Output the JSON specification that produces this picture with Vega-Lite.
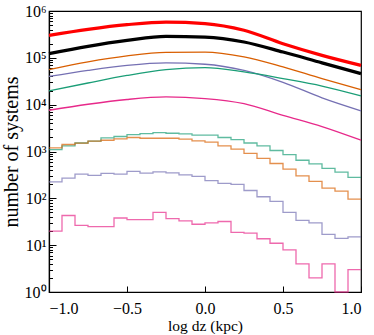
{
  "$schema": "https://vega.github.io/schema/vega-lite/v6.json",
  "autosize": "none",
  "width": 312,
  "height": 281,
  "padding": {"left": 49, "top": 11, "right": 13, "bottom": 43},
  "background": "white",
  "config": {
    "view": {"stroke": "black", "strokeWidth": 1.2},
    "font": "Liberation Serif",
    "axis": {"grid": false, "domainColor": "black", "tickColor": "black", "labelColor": "black", "titleColor": "black", "labelFont": "Liberation Serif", "titleFont": "Liberation Serif", "labelFontSize": 16, "titleFontSize": 16, "titleFontWeight": "normal", "domainWidth": 1.2}
  },
  "datasets": {
    "smooth": [
      {"x": -1, "y": 302000, "s": "S1"}, {"x": -0.75, "y": 405000, "s": "S1"}, {"x": -0.5, "y": 510000, "s": "S1"}, {"x": -0.25, "y": 580000, "s": "S1"}, {"x": 0, "y": 540000, "s": "S1"}, {"x": 0.25, "y": 387000, "s": "S1"}, {"x": 0.5, "y": 200000, "s": "S1"}, {"x": 0.75, "y": 113000, "s": "S1"}, {"x": 1, "y": 69000, "s": "S1"},
      {"x": -1, "y": 123000, "s": "S2"}, {"x": -0.75, "y": 176000, "s": "S2"}, {"x": -0.5, "y": 235000, "s": "S2"}, {"x": -0.25, "y": 288000, "s": "S2"}, {"x": 0, "y": 278000, "s": "S2"}, {"x": 0.25, "y": 218000, "s": "S2"}, {"x": 0.5, "y": 133000, "s": "S2"}, {"x": 0.75, "y": 78000, "s": "S2"}, {"x": 1, "y": 46000, "s": "S2"},
      {"x": -1, "y": 56000, "s": "S3"}, {"x": -0.75, "y": 82000, "s": "S3"}, {"x": -0.5, "y": 110000, "s": "S3"}, {"x": -0.25, "y": 131000, "s": "S3"}, {"x": 0, "y": 133000, "s": "S3"}, {"x": 0.25, "y": 105000, "s": "S3"}, {"x": 0.5, "y": 64000, "s": "S3"}, {"x": 0.75, "y": 36000, "s": "S3"}, {"x": 1, "y": 21000, "s": "S3"},
      {"x": -1, "y": 40000, "s": "S4"}, {"x": -0.75, "y": 54000, "s": "S4"}, {"x": -0.5, "y": 69000, "s": "S4"}, {"x": -0.25, "y": 78000, "s": "S4"}, {"x": 0, "y": 73000, "s": "S4"}, {"x": 0.25, "y": 54000, "s": "S4"}, {"x": 0.5, "y": 30000, "s": "S4"}, {"x": 0.75, "y": 14000, "s": "S4"}, {"x": 1, "y": 7400, "s": "S4"},
      {"x": -1, "y": 19600, "s": "S5"}, {"x": -0.75, "y": 29000, "s": "S5"}, {"x": -0.5, "y": 42000, "s": "S5"}, {"x": -0.25, "y": 56000, "s": "S5"}, {"x": 0, "y": 62000, "s": "S5"}, {"x": 0.25, "y": 50000, "s": "S5"}, {"x": 0.5, "y": 36000, "s": "S5"}, {"x": 0.75, "y": 25000, "s": "S5"}, {"x": 1, "y": 15400, "s": "S5"},
      {"x": -1, "y": 7600, "s": "S6"}, {"x": -0.75, "y": 10200, "s": "S6"}, {"x": -0.5, "y": 12900, "s": "S6"}, {"x": -0.25, "y": 14600, "s": "S6"}, {"x": 0, "y": 13500, "s": "S6"}, {"x": 0.25, "y": 10500, "s": "S6"}, {"x": 0.5, "y": 5900, "s": "S6"}, {"x": 0.75, "y": 3400, "s": "S6"}, {"x": 1, "y": 1740, "s": "S6"}
    ],
    "hist": [
      {"x": -1, "y": 1100, "s": "S5"}, {"x": -0.9167, "y": 1320, "s": "S5"}, {"x": -0.8333, "y": 1520, "s": "S5"}, {"x": -0.75, "y": 1660, "s": "S5"}, {"x": -0.6667, "y": 1950, "s": "S5"}, {"x": -0.5833, "y": 2090, "s": "S5"}, {"x": -0.5, "y": 2300, "s": "S5"}, {"x": -0.4167, "y": 2410, "s": "S5"}, {"x": -0.3333, "y": 2540, "s": "S5"}, {"x": -0.25, "y": 2450, "s": "S5"}, {"x": -0.1667, "y": 2370, "s": "S5"}, {"x": -0.0833, "y": 2240, "s": "S5"}, {"x": 0, "y": 2230, "s": "S5"}, {"x": 0.0833, "y": 1990, "s": "S5"}, {"x": 0.1667, "y": 1800, "s": "S5"}, {"x": 0.25, "y": 1520, "s": "S5"}, {"x": 0.3333, "y": 1320, "s": "S5"}, {"x": 0.4167, "y": 1050, "s": "S5"}, {"x": 0.5, "y": 860, "s": "S5"}, {"x": 0.5833, "y": 650, "s": "S5"}, {"x": 0.6667, "y": 545, "s": "S5"}, {"x": 0.75, "y": 435, "s": "S5"}, {"x": 0.8333, "y": 363, "s": "S5"}, {"x": 0.9167, "y": 279, "s": "S5"}, {"x": 1, "y": 279, "s": "S5"},
      {"x": -1, "y": 1200, "s": "S3"}, {"x": -0.9167, "y": 1410, "s": "S3"}, {"x": -0.8333, "y": 1510, "s": "S3"}, {"x": -0.75, "y": 1660, "s": "S3"}, {"x": -0.6667, "y": 1740, "s": "S3"}, {"x": -0.5833, "y": 1860, "s": "S3"}, {"x": -0.5, "y": 1990, "s": "S3"}, {"x": -0.4167, "y": 1920, "s": "S3"}, {"x": -0.3333, "y": 1920, "s": "S3"}, {"x": -0.25, "y": 1920, "s": "S3"}, {"x": -0.1667, "y": 1830, "s": "S3"}, {"x": -0.0833, "y": 1690, "s": "S3"}, {"x": 0, "y": 1590, "s": "S3"}, {"x": 0.0833, "y": 1320, "s": "S3"}, {"x": 0.1667, "y": 1120, "s": "S3"}, {"x": 0.25, "y": 910, "s": "S3"}, {"x": 0.3333, "y": 710, "s": "S3"}, {"x": 0.4167, "y": 555, "s": "S3"}, {"x": 0.5, "y": 420, "s": "S3"}, {"x": 0.5833, "y": 302, "s": "S3"}, {"x": 0.6667, "y": 230, "s": "S3"}, {"x": 0.75, "y": 165, "s": "S3"}, {"x": 0.8333, "y": 143, "s": "S3"}, {"x": 0.9167, "y": 96, "s": "S3"}, {"x": 1, "y": 96, "s": "S3"},
      {"x": -1, "y": 224, "s": "S4"}, {"x": -0.9167, "y": 270, "s": "S4"}, {"x": -0.8333, "y": 330, "s": "S4"}, {"x": -0.75, "y": 308, "s": "S4"}, {"x": -0.6667, "y": 340, "s": "S4"}, {"x": -0.5833, "y": 330, "s": "S4"}, {"x": -0.5, "y": 375, "s": "S4"}, {"x": -0.4167, "y": 345, "s": "S4"}, {"x": -0.3333, "y": 367, "s": "S4"}, {"x": -0.25, "y": 350, "s": "S4"}, {"x": -0.1667, "y": 317, "s": "S4"}, {"x": -0.0833, "y": 293, "s": "S4"}, {"x": 0, "y": 240, "s": "S4"}, {"x": 0.0833, "y": 208, "s": "S4"}, {"x": 0.1667, "y": 198, "s": "S4"}, {"x": 0.25, "y": 147, "s": "S4"}, {"x": 0.3333, "y": 108, "s": "S4"}, {"x": 0.4167, "y": 86, "s": "S4"}, {"x": 0.5, "y": 50, "s": "S4"}, {"x": 0.5833, "y": 34, "s": "S4"}, {"x": 0.6667, "y": 30, "s": "S4"}, {"x": 0.75, "y": 17, "s": "S4"}, {"x": 0.8333, "y": 14, "s": "S4"}, {"x": 0.9167, "y": 15, "s": "S4"}, {"x": 1, "y": 15, "s": "S4"},
      {"x": -1, "y": 20, "s": "S6"}, {"x": -0.9167, "y": 43, "s": "S6"}, {"x": -0.8333, "y": 26.5, "s": "S6"}, {"x": -0.75, "y": 25, "s": "S6"}, {"x": -0.6667, "y": 25, "s": "S6"}, {"x": -0.5833, "y": 38, "s": "S6"}, {"x": -0.5, "y": 35, "s": "S6"}, {"x": -0.4167, "y": 35, "s": "S6"}, {"x": -0.3333, "y": 50, "s": "S6"}, {"x": -0.25, "y": 37, "s": "S6"}, {"x": -0.1667, "y": 33, "s": "S6"}, {"x": -0.0833, "y": 28, "s": "S6"}, {"x": 0, "y": 30, "s": "S6"}, {"x": 0.0833, "y": 32, "s": "S6"}, {"x": 0.1667, "y": 18.7, "s": "S6"}, {"x": 0.25, "y": 18, "s": "S6"}, {"x": 0.3333, "y": 13.7, "s": "S6"}, {"x": 0.4167, "y": 11, "s": "S6"}, {"x": 0.5, "y": 7.9, "s": "S6"}, {"x": 0.5833, "y": 4, "s": "S6"}, {"x": 0.6667, "y": 2, "s": "S6"}, {"x": 0.75, "y": 4, "s": "S6"}, {"x": 0.8333, "y": 1, "s": "S6"}, {"x": 0.9167, "y": 3, "s": "S6"}, {"x": 1, "y": 3, "s": "S6"}
    ]
  },
  "encoding": {
    "x": {
      "field": "x", "type": "quantitative",
      "scale": {"domain": [-1, 1], "nice": false, "zero": false},
      "axis": {"values": [-1, -0.5, 0, 0.5, 1], "format": ".1f", "tickSize": -6, "labelPadding": 14, "title": "log dz (kpc)", "titlePadding": 2, "titleFontSize": 15.5}
    },
    "y": {
      "field": "y", "type": "quantitative",
      "scale": {"type": "log", "domain": [1, 1000000], "nice": false},
      "axis": {
        "values": [1,2,3,4,5,6,7,8,9,10,20,30,40,50,60,70,80,90,100,200,300,400,500,600,700,800,900,1000,2000,3000,4000,5000,6000,7000,8000,9000,10000,20000,30000,40000,50000,60000,70000,80000,90000,100000,200000,300000,400000,500000,600000,700000,800000,900000,1000000],
        "labelExpr": "abs(log(datum.value)/LN10 - round(log(datum.value)/LN10)) < 0.000001 ? '10' + ['⁰','¹','²','³','⁴','⁵','⁶'][round(log(datum.value)/LN10)] : ''",
        "tickSize": {"condition": {"test": "abs(log(datum.value)/LN10 - round(log(datum.value)/LN10)) < 0.000001", "value": -7}, "value": -3.5},
        "labelOverlap": false,
        "labelPadding": 10,
        "title": "number of systems",
        "titleFontSize": 20,
        "titlePadding": 3
      }
    },
    "color": {
      "field": "s", "type": "nominal", "legend": null,
      "scale": {"domain": ["S1", "S2", "S3", "S4", "S5", "S6"], "range": ["#ff0000", "#000000", "#d95f02", "#7570b3", "#1b9e77", "#e7298a"]}
    }
  },
  "layer": [
    {
      "data": {"name": "hist"},
      "mark": {"type": "line", "interpolate": "step-after", "strokeWidth": 1.3, "opacity": 0.7},
      "encoding": {"detail": {"field": "s"}}
    },
    {
      "data": {"name": "smooth"},
      "transform": [{"filter": "datum.s != 'S1' && datum.s != 'S2'"}],
      "mark": {"type": "line", "interpolate": "monotone", "strokeWidth": 1.3},
      "encoding": {"detail": {"field": "s"}}
    },
    {
      "data": {"name": "smooth"},
      "transform": [{"filter": "datum.s == 'S1' || datum.s == 'S2'"}],
      "mark": {"type": "line", "interpolate": "monotone", "strokeWidth": 3.2},
      "encoding": {"detail": {"field": "s"}}
    }
  ]
}
